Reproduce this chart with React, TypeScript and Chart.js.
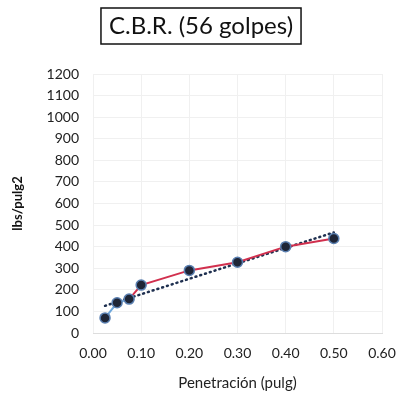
import React, { useEffect, useRef } from "react";
import { Chart, registerables } from "chart.js";

Chart.register(...registerables);

const penetration = [0.025, 0.05, 0.075, 0.1, 0.2, 0.3, 0.4, 0.5];
const pressure = [70, 140, 157, 222, 290, 328, 400, 438];
const xTicks = [0, 0.1, 0.2, 0.3, 0.4, 0.5, 0.6];
const yTicks = [0, 100, 200, 300, 400, 500, 600, 700, 800, 900, 1000, 1100, 1200];
const titleText = "C.B.R. (56 golpes)";
const xTitle = "Penetración (pulg)";
const yTitle = "lbs/pulg2";

function linearFit(xs: number[], ys: number[]) {
  const n = xs.length;
  const mx = xs.reduce((a, b) => a + b, 0) / n;
  const my = ys.reduce((a, b) => a + b, 0) / n;
  let sxy = 0, sxx = 0;
  for (let i = 0; i < n; i++) {
    sxy += (xs[i] - mx) * (ys[i] - my);
    sxx += (xs[i] - mx) * (xs[i] - mx);
  }
  const m = sxy / sxx;
  return { m, b: my - m * mx };
}

const boxedTitle = {
  id: "boxedTitle",
  afterDraw(chart: any) {
    const ctx = chart.ctx;
    ctx.save();
    ctx.font = "24px Lato";
    ctx.textAlign = "center";
    ctx.textBaseline = "middle";
    ctx.fillStyle = "#111";
    const cx = 201;
    const cy = 26;
    const w = ctx.measureText(titleText).width;
    ctx.fillText(titleText, cx, cy);
    ctx.strokeStyle = "#111";
    ctx.lineWidth = 1.5;
    ctx.strokeRect(cx - w / 2 - 8, 8, w + 16, 36);
    ctx.restore();
  },
};

export default function App() {
  const ref = useRef<HTMLCanvasElement>(null);
  useEffect(() => {
    const fit = linearFit(penetration, pressure);
    const x0 = penetration[0];
    const x1 = penetration[penetration.length - 1];
    const chart = new Chart(ref.current!, {
      type: "scatter",
      data: {
        datasets: [
          {
            label: "data",
            data: penetration.map((x, i) => ({ x, y: pressure[i] })),
            showLine: true,
            borderColor: "#d1304e",
            borderWidth: 2,
            segment: {
              borderColor: (c: any) => (c.p0DataIndex < 2 ? "#6fa8dc" : "#d1304e"),
            },
            pointRadius: 5,
            pointBackgroundColor: "#1e2536",
            pointBorderColor: "#5a7fb0",
            pointBorderWidth: 1.5,
            order: 1,
          },
          {
            label: "trend",
            data: [
              { x: x0, y: fit.m * x0 + fit.b },
              { x: x1, y: fit.m * x1 + fit.b },
            ],
            showLine: true,
            borderColor: "#1f3050",
            borderWidth: 2.5,
            borderDash: [1, 4],
            borderCapStyle: "round",
            pointRadius: 0,
            order: 2,
          },
        ],
      },
      options: {
        animation: false,
        responsive: false,
        layout: { padding: { top: 74, right: 0, left: 0, bottom: 0 } },
        plugins: { legend: { display: false }, tooltip: { enabled: false }, title: { display: false } },
        scales: {
          x: {
            type: "linear",
            min: 0,
            max: 0.6,
            afterBuildTicks: (s: any) => {
              s.ticks = xTicks.map((v) => ({ value: v }));
            },
            afterFit: (s: any) => {
              s.height = 63;
              s.paddingRight = 16;
            },
            ticks: {
              callback: (v: any) => Number(v).toFixed(2),
              font: { family: "Lato", size: 14 },
              color: "#222",
              padding: 12,
            },
            grid: { color: "#f0f0f0", drawTicks: false },
            border: { color: "#dddddd" },
            title: {
              display: true,
              text: xTitle,
              font: { family: "Lato", size: 15 },
              color: "#222",
              padding: { top: 4 },
            },
          },
          y: {
            type: "linear",
            min: 0,
            max: 1200,
            afterBuildTicks: (s: any) => {
              s.ticks = yTicks.map((v) => ({ value: v }));
            },
            afterFit: (s: any) => {
              s.width = 93;
            },
            ticks: {
              callback: (v: any) => String(v),
              font: { family: "Lato", size: 14 },
              color: "#222",
              padding: 14,
            },
            grid: { color: "#f0f0f0", drawTicks: false },
            border: { display: false },
            title: {
              display: true,
              text: yTitle,
              font: { family: "Lato", size: 13, weight: "bold" },
              color: "#111",
              padding: { bottom: 0, top: 10 },
            },
          },
        },
      },
      plugins: [boxedTitle],
    });
    return () => chart.destroy();
  }, []);
  return (
    <div style={{ position: "absolute", left: 0, top: 0, width: 398, height: 396, background: "#fff" }}>
      <canvas ref={ref} width={398} height={396} />
    </div>
  );
}
